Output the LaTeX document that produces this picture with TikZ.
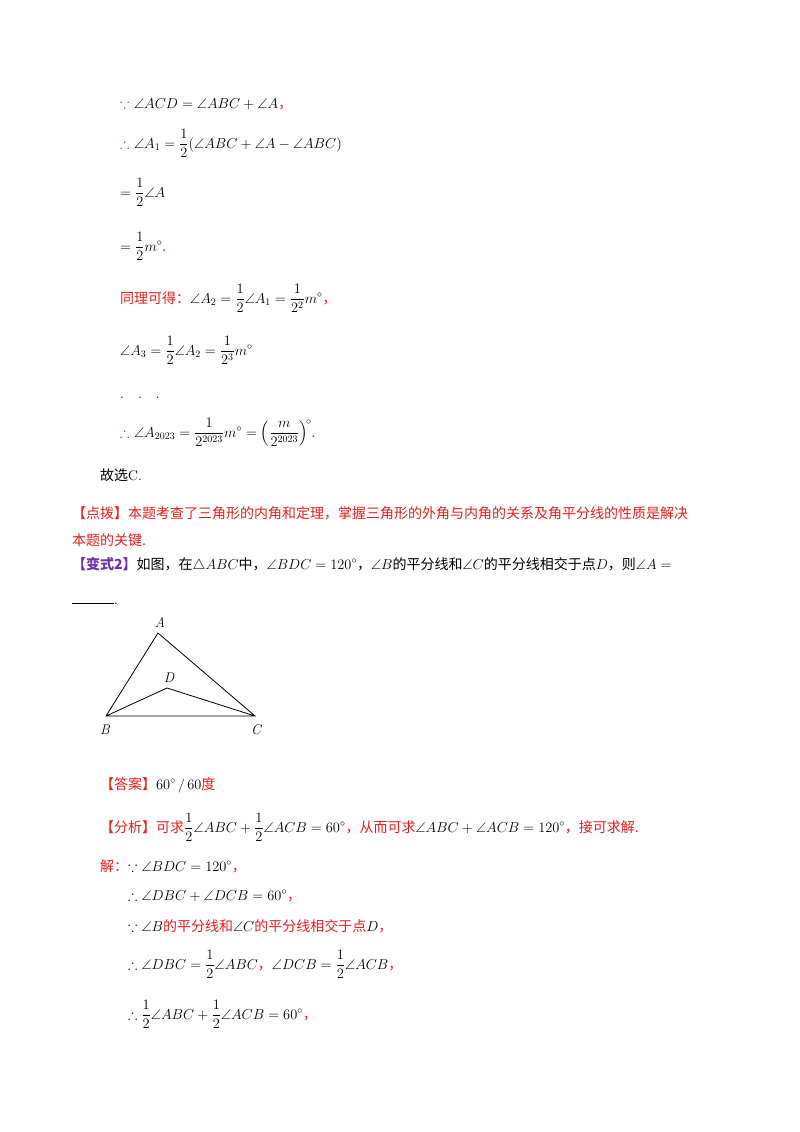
\documentclass[tikz,border=0pt]{standalone}
\usepackage{amsmath,amssymb}
\usepackage{fontspec}
\newfontfamily\cjk{Noto Sans CJK SC}
\definecolor{rd}{RGB}{230,30,30}
\definecolor{pp}{RGB}{110,50,160}
\begin{document}
\begin{tikzpicture}[x=1pt,y=-1pt,
  t/.style={anchor=base west,inner sep=0pt,font=\fontsize{14}{16}\selectfont},
  lbl/.style={font=\fontsize{14}{16}\selectfont\itshape,inner sep=0pt}]
\useasboundingbox (0,0) rectangle (800,1132);
\fill[white] (0,0) rectangle (800,1132);
\newcommand\R[1]{\textcolor{rd}{\cjk #1}}
\node[t] (l1) at (120,108) {\textcolor{rd}{$\because$} $\angle ACD=\angle ABC+\angle A$\R{，}};
\node[t] (l2) at (120,148) {\textcolor{rd}{$\therefore$} $\angle A_1=\dfrac12(\angle ABC+\angle A-\angle ABC)$};
\node[t] (l3) at (120,197) {$=\dfrac12\angle A$};
\node[t] (l4) at (120,251) {$=\dfrac12 m^\circ$\R{.}};
\node[t] (l5) at (120,303) {\R{同理可得：}$\angle A_2=\dfrac12\angle A_1=\dfrac1{2^2}m^\circ$\R{，}};
\node[t] (l6) at (120,355) {$\angle A_3=\dfrac12\angle A_2=\dfrac1{2^3}m^\circ$};
\node[t] (l7) at (120,398) {.\quad.\quad.};
\node[t] (l8) at (120,437) {\textcolor{rd}{$\therefore$} $\angle A_{2023}=\dfrac1{2^{2023}}m^\circ=\left(\dfrac{m}{2^{2023}}\right)^{\!\circ}$\R{.}};
\node[t] (l9) at (100,480) {{\cjk 故选}C.};
\node[t] (l10) at (72,518) {\R{【点拨】本题考查了三角形的内角和定理，掌握三角形的外角与内角的关系及角平分线的性质是解决}};
\node[t] (l11) at (72,545) {\R{本题的关键.}};
\node[t] (l12) at (72,569) {\textcolor{pp}{\cjk\bfseries 【变式2】}{\cjk 如图，在}$\triangle ABC${\cjk 中，}$\angle BDC=120^\circ${\cjk ，}$\angle B${\cjk 的平分线和}$\angle C${\cjk 的平分线相交于点}$D${\cjk ，则}$\angle A=$};
\node[t] (l13) at (72,604) {\rule{42pt}{0.6pt}.};
\coordinate (A) at (158,633);
\coordinate (B) at (106,716);
\coordinate (C) at (255,716);
\coordinate (D) at (167,688);
\draw[line width=0.8pt] (A)--(B)--(C)--cycle (B)--(D)--(C);
\node[lbl] (la) at (160,622) {A};
\node[lbl] (ld) at (169,678) {D};
\node[lbl] (lb) at (105,730) {B};
\node[lbl] (lc) at (256,730) {C};
\node[t] (l14) at (100,789) {\R{【答案】}$60^\circ$\,/\,$60$\R{度}};
\node[t] (l15) at (100,832) {\R{【分析】可求}$\dfrac12\angle ABC+\dfrac12\angle ACB=60^\circ$\R{，从而可求}$\angle ABC+\angle ACB=120^\circ$\R{，接可求解.}};
\node[t] (l16) at (100,871) {\R{解：}$\because\angle BDC=120^\circ$\R{，}};
\node[t] (l17) at (128,900) {$\therefore\angle DBC+\angle DCB=60^\circ$\R{，}};
\node[t] (l18) at (128,931) {$\because\angle B$\R{的平分线和}$\angle C$\R{的平分线相交于点}$D$\R{，}};
\node[t] (l19) at (128,969) {$\therefore\angle DBC=\dfrac12\angle ABC$\R{，}$\angle DCB=\dfrac12\angle ACB$\R{，}};
\node[t] (l20) at (128,1019) {$\therefore\dfrac12\angle ABC+\dfrac12\angle ACB=60^\circ$\R{，}};
\end{tikzpicture}
\end{document}
